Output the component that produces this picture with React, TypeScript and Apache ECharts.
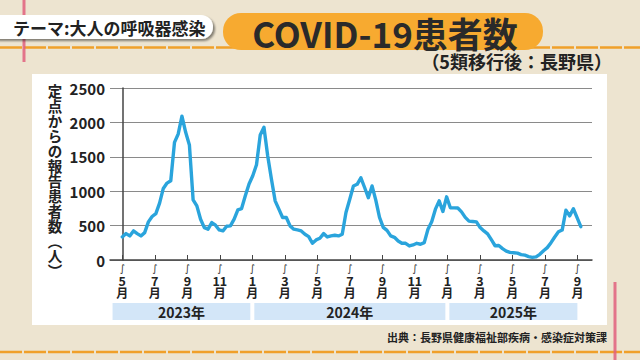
import React, { useEffect, useRef } from "react";
import * as echarts from "echarts";

// Weekly reported cases per sentinel site (Nagano)
const casesMay2023ToDec2023 = [
  335, 384, 350, 423, 384, 350, 398, 554, 632, 675, 826, 1040, 1118, 1152, 1710, 1832,
  2090, 1856, 1672, 875, 787, 593, 471, 448, 544, 506, 437, 423, 491, 496, 593,
];
const casesDec2023ToJul2024 = [
  729, 748, 933, 1104, 1225, 1385, 1818, 1929, 1516, 1177, 860, 739, 617, 617, 496, 448,
  437, 423, 375, 340, 243, 292, 316, 384, 335, 350, 360, 350, 375, 690, 880,
];
const casesJul2024ToSep2025 = [
  1075, 1100, 1195, 1054, 905, 1077, 870, 620, 475, 430, 350, 330, 277, 243, 243, 204,
  219, 243, 229, 252, 448, 555, 739, 860, 705, 918, 760, 758, 755, 700, 620, 565, 559,
  554, 471, 423, 380, 295, 207, 210, 165, 130, 110, 105, 100, 78, 70, 50, 38, 46, 83,
  135, 180, 252, 335, 410, 435, 724, 641, 745, 615, 485,
];
const weeklyCases = [...casesMay2023ToDec2023, ...casesDec2023ToJul2024, ...casesJul2024ToSep2025];

const monthLabels = ["5", "7", "9", "11", "1", "3", "5", "7", "9", "11", "1", "3", "5", "7", "9"];
const yearLabels = ["2023年", "2024年", "2025年"];
const yearSpanMonths = [
  [-0.6, 8],
  [8, 20],
  [20, 28],
];
const Y_MAX = 2500;
const Y_STEP = 500;
const WEEKS_PER_MONTH = 4.36;

const FONT = '"Noto Sans CJK JP", "Noto Sans", sans-serif';

export default function App() {
  const ref = useRef<HTMLDivElement>(null);

  useEffect(() => {
    const chart = echarts.init(ref.current!, null, { renderer: "svg" });
    const tickValues = monthLabels.map((_, k) => k * 2 * WEEKS_PER_MONTH);

    chart.setOption({
      animation: false,
      backgroundColor: "#ede4d0",
      textStyle: { fontFamily: FONT },
      grid: { left: 110, top: 88, width: 482, height: 172 },
      xAxis: {
        type: "value",
        min: -3.3,
        max: 126,
        axisLine: { show: true, lineStyle: { color: "#444", width: 1.5 } },
        axisTick: {
          show: true,
          inside: true,
          length: 5,
          customValues: tickValues,
          lineStyle: { color: "#444", width: 1 },
        },
        splitLine: { show: false },
        axisLabel: {
          customValues: tickValues,
          margin: 2,
          formatter: (v: number) => {
            const k = Math.round(v / (2 * WEEKS_PER_MONTH));
            return `{s|∫}\n{n|${monthLabels[k]}}\n{m|月}`;
          },
          rich: {
            s: { fontSize: 10, lineHeight: 12, color: "#333", fontFamily: '"DejaVu Sans"' },
            n: { fontSize: 12.5, lineHeight: 12.5, fontWeight: "bold", color: "#222", fontFamily: FONT },
            m: { fontSize: 12, lineHeight: 12, fontWeight: "bold", color: "#222", fontFamily: FONT },
          },
        },
      },
      yAxis: {
        type: "value",
        min: 0,
        max: Y_MAX,
        interval: Y_STEP,
        axisLine: { show: true, lineStyle: { color: "#444", width: 1.5 } },
        axisTick: { show: false },
        splitLine: { show: true, lineStyle: { color: "#8a8a8a", width: 1.2 } },
        axisLabel: {
          margin: 5,
          fontSize: 15,
          fontWeight: "bold",
          color: "#222",
          fontFamily: FONT,
          formatter: (v: number) => String(v),
        },
      },
      series: [
        {
          type: "line",
          data: weeklyCases.map((v, i) => [i, v]),
          symbol: "none",
          z: 5,
          lineStyle: { color: "#2aa4dc", width: 3.4, join: "round", cap: "round" },
        },
      ],
    });

    const px = (m: number) => chart.convertToPixel({ xAxisIndex: 0 }, m * WEEKS_PER_MONTH) as number;

    const yearBands: any[] = [];
    yearSpanMonths.forEach(([a, b], i) => {
      const x0 = px(a) + (i === 0 ? 0 : 2);
      const x1 = px(b) - (i === yearSpanMonths.length - 1 ? 0 : 2);
      yearBands.push({
        type: "rect",
        shape: { x: x0, y: 303, width: x1 - x0, height: 17 },
        style: { fill: "#d3e6f8" },
      });
      yearBands.push({
        type: "text",
        x: (x0 + x1) / 2,
        y: 311.5,
        style: {
          text: yearLabels[i],
          fontSize: 14,
          fontWeight: "bold",
          fontFamily: FONT,
          fill: "#222",
          align: "center",
          verticalAlign: "middle",
        },
      });
    });

    const yTitle = "定点からの報告患者数︵人︶".split("").join("\n");

    chart.setOption({
      graphic: {
        elements: [
          {
            type: "rect",
            z: -10,
            shape: { x: 32, y: 74, width: 575, height: 251 },
            style: { fill: "#ffffff" },
          },
          {
            type: "line",
            z: -5,
            shape: { x1: 0, y1: 47.5, x2: 640, y2: 47.5 },
            style: { stroke: "#f0a02a", lineWidth: 2.5, lineDash: [22, 2] },
          },
          {
            type: "line",
            z: -5,
            shape: { x1: 0, y1: 352, x2: 640, y2: 352 },
            style: { stroke: "#f0a02a", lineWidth: 2.5, lineDash: [22, 2] },
          },
          {
            type: "line",
            z: -4,
            shape: { x1: 24, y1: 0, x2: 24, y2: 62 },
            style: { stroke: "#e0607e", lineWidth: 3, opacity: 0.85 },
          },
          {
            type: "line",
            z: -4,
            shape: { x1: 615, y1: 282, x2: 615, y2: 360 },
            style: { stroke: "#e0607e", lineWidth: 3, opacity: 0.85 },
          },
          {
            type: "rect",
            shape: { x: -14, y: 15, width: 227, height: 24, r: 12 },
            style: {
              fill: "#ffffff",
              shadowBlur: 2,
              shadowOffsetX: 2,
              shadowOffsetY: 2,
              shadowColor: "rgba(0,0,0,0.45)",
            },
          },
          {
            type: "text",
            x: 13,
            y: 27.5,
            style: {
              text: "テーマ:大人の呼吸器感染",
              fontSize: 17,
              fontWeight: "bold",
              fontFamily: FONT,
              fill: "#222",
              verticalAlign: "middle",
            },
          },
          {
            type: "rect",
            shape: { x: 223, y: 13, width: 320, height: 37, r: 18 },
            style: { fill: "#f7aa30" },
          },
          {
            type: "text",
            x: 385,
            y: 32,
            style: {
              text: "COVID-19患者数",
              fontSize: 35,
              fontWeight: "bold",
              fontFamily: FONT,
              fill: "#2a2a2a",
              align: "center",
              verticalAlign: "middle",
            },
          },
          {
            type: "text",
            x: 612,
            y: 61,
            style: {
              text: "（5類移行後：長野県）",
              fontSize: 18,
              fontWeight: "bold",
              fontFamily: FONT,
              fill: "#222",
              align: "right",
              verticalAlign: "middle",
            },
          },
          {
            type: "text",
            x: 55,
            y: 83,
            style: {
              text: yTitle,
              fontSize: 14.5,
              lineHeight: 15,
              fontWeight: "bold",
              fontFamily: FONT,
              fill: "#222",
              align: "center",
              verticalAlign: "top",
            },
          },
          ...yearBands,
          {
            type: "text",
            x: 607,
            y: 337,
            style: {
              text: "出典：長野県健康福祉部疾病・感染症対策課",
              fontSize: 11,
              fontWeight: "bold",
              fontFamily: FONT,
              fill: "#222",
              align: "right",
              verticalAlign: "middle",
            },
          },
        ],
      },
    });

    return () => chart.dispose();
  }, []);

  return (
    <div
      ref={ref}
      style={{ position: "absolute", left: 0, top: 0, width: 640, height: 360 }}
    />
  );
}
